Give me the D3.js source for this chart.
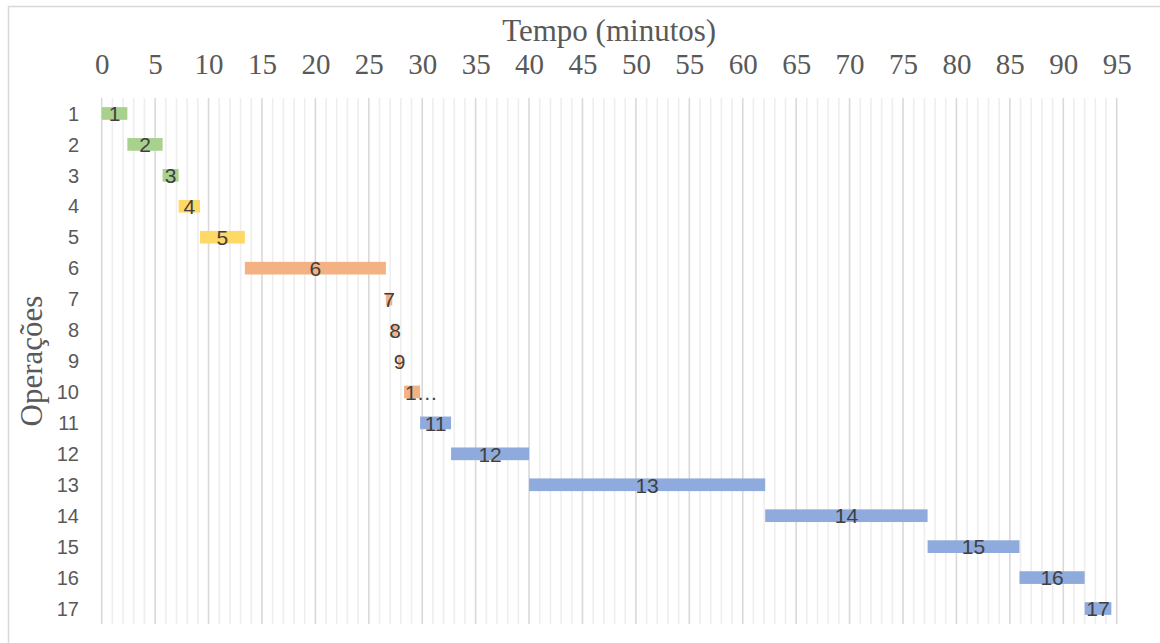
<!DOCTYPE html>
<html>
<head>
<meta charset="utf-8">
<script src="https://cdn.jsdelivr.net/npm/d3@7"></script>
<style>
  html, body { margin: 0; padding: 0; background: #fff; }
  svg { display: block; }
</style>
</head>
<body>
<svg id="chart" width="1160" height="643"></svg>
<script>
// Operations (rows), their start times and durations in minutes
const operations = ["1","2","3","4","5","6","7","8","9","10","11","12","13","14","15","16","17"];
const starts     = [0, 2.4, 5.7, 7.2, 9.2, 13.4, 26.6, 27.2, 27.75, 28.3, 29.8, 32.7, 40.0, 62.1, 77.3, 85.9, 92.0];
const durations  = [2.4, 3.3, 1.5, 2.0, 4.2, 13.2, 0.6, 0.5, 0.25, 1.5, 2.9, 7.3, 22.1, 15.2, 8.6, 6.1, 2.5];
const barLabels  = ["1","2","3","4","5","6","7","8","9","1…","11","12","13","14","15","16","17"];
const groups     = ["prep","prep","prep","mix","mix","cook","cook","cook","cook","cook","fin","fin","fin","fin","fin","fin","fin"];
const xTicks     = [0,5,10,15,20,25,30,35,40,45,50,55,60,65,70,75,80,85,90,95];

const groupColor = d3.scaleOrdinal()
  .domain(["prep","mix","cook","fin"])
  .range(["#a9d18e","#ffd966","#f4b183","#8faadc"]);

const svg = d3.select("#chart");
const margin = { left: 101.7, right: 1160 - 1116.7, top: 98, bottom: 643 - 624 };
const W = 1160, H = 643;

// outer chart frame
svg.append("rect")
  .attr("x", 8.5).attr("y", 6.5)
  .attr("width", 1300).attr("height", 800)
  .attr("fill", "none").attr("stroke", "#d9d9d9").attr("stroke-width", 1.5);

const x = d3.scaleLinear().domain([0, 95]).range([margin.left, W - margin.right]);
const y = d3.scaleBand().domain(operations).range([margin.top, H - margin.bottom]).paddingInner(0.59).paddingOuter(0.295);

// minor and major vertical gridlines
const minor = d3.range(0, 96, 1).filter(v => v % 5 !== 0);
svg.append("g").selectAll("line").data(minor).join("line")
  .attr("x1", d => x(d)).attr("x2", d => x(d))
  .attr("y1", margin.top).attr("y2", H - margin.bottom)
  .attr("stroke", "#eeeeee").attr("stroke-width", 1.6);

svg.append("g").selectAll("line").data(xTicks).join("line")
  .attr("x1", d => x(d)).attr("x2", d => x(d))
  .attr("y1", margin.top).attr("y2", H - margin.bottom)
  .attr("stroke", "#d9d9d9").attr("stroke-width", 1.6);

// top axis tick labels
const xAxis = d3.axisTop(x).tickValues(xTicks).tickSize(0).tickPadding(0);
const gx = svg.append("g").attr("transform", "translate(0,74)").call(xAxis);
gx.select(".domain").remove();
gx.selectAll("text")
  .attr("font-family", "'Liberation Serif', 'Times New Roman', serif")
  .attr("font-size", 29).attr("fill", "#595959").attr("dy", 0);

// left axis tick labels
const yAxis = d3.axisLeft(y).tickSize(0).tickPadding(0);
const gy = svg.append("g").attr("transform", "translate(79,0)").call(yAxis);
gy.select(".domain").remove();
gy.selectAll("text")
  .attr("font-family", "'Liberation Sans', Arial, sans-serif")
  .attr("font-size", 20).attr("fill", "#595959").attr("dy", "0.36em");

// bars
const rows = operations.map((op, i) => ({ op, start: starts[i], dur: durations[i], label: barLabels[i], group: groups[i] }));
svg.append("g").selectAll("rect").data(rows).join("rect")
  .attr("x", d => x(d.start))
  .attr("y", d => y(d.op))
  .attr("width", d => x(d.start + d.dur) - x(d.start))
  .attr("height", y.bandwidth())
  .attr("fill", d => groupColor(d.group));

// bar labels
svg.append("g").selectAll("text").data(rows).join("text")
  .attr("x", d => d.label.endsWith("…") ? x(d.start) + 1 : x(d.start + d.dur / 2))
  .attr("y", d => y(d.op) + y.bandwidth() / 2)
  .attr("dy", "0.37em")
  .attr("text-anchor", d => d.label.endsWith("…") ? "start" : "middle")
  .attr("font-family", "'Liberation Sans', Arial, sans-serif")
  .attr("font-size", 21).attr("fill", "#404040")
  .text(d => d.label);

// axis titles
svg.append("text")
  .attr("x", x(47.5)).attr("y", 41)
  .attr("text-anchor", "middle")
  .attr("font-family", "'Liberation Serif', 'Times New Roman', serif")
  .attr("font-size", 31).attr("fill", "#595959")
  .text("Tempo (minutos)");

svg.append("text")
  .attr("transform", `translate(42,${(margin.top + H - margin.bottom) / 2}) rotate(-90)`)
  .attr("text-anchor", "middle")
  .attr("font-family", "'Liberation Serif', 'Times New Roman', serif")
  .attr("font-size", 31).attr("fill", "#595959")
  .text("Operações");
</script>
</body>
</html>
